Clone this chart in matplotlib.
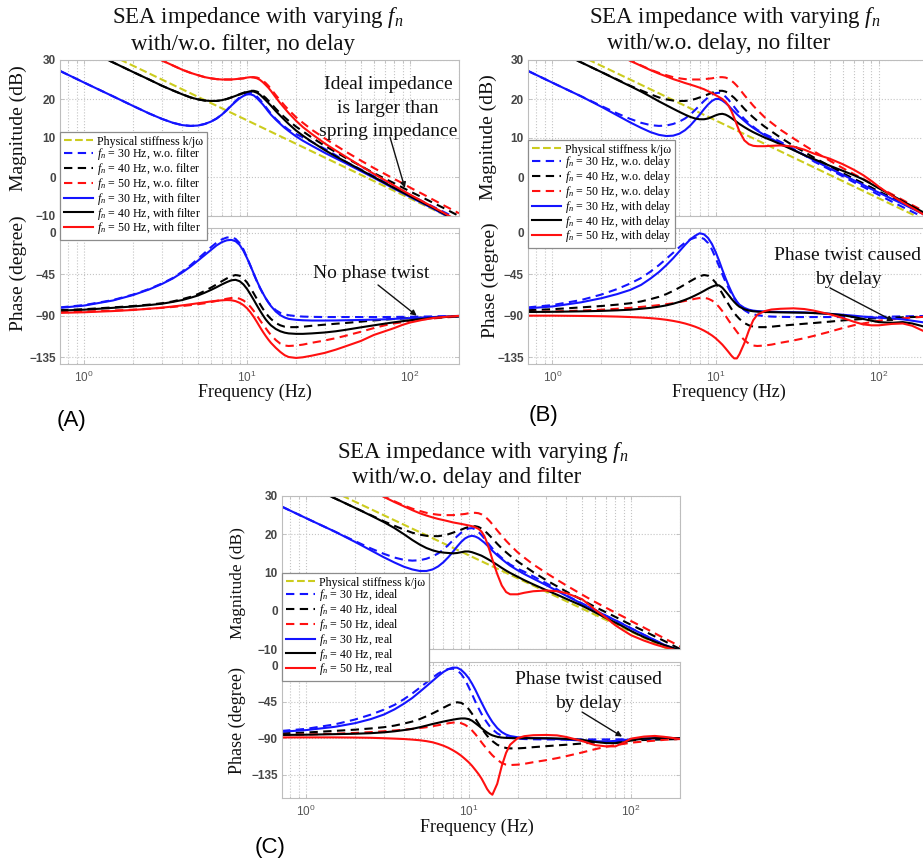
import numpy as np
import matplotlib
matplotlib.use("Agg")
import matplotlib.pyplot as plt
from matplotlib.ticker import FixedLocator, LogLocator, FuncFormatter, NullFormatter

plt.rcParams["mathtext.fontset"] = "custom"
plt.rcParams["mathtext.rm"] = "Liberation Serif"
plt.rcParams["mathtext.it"] = "Liberation Serif:italic"
plt.rcParams["mathtext.sf"] = "Liberation Sans"
plt.rcParams["font.family"] = ["Liberation Serif", "DejaVu Serif"]
plt.rcParams["axes.unicode_minus"] = True

# ---------------------------------------------------------------- data
freq = [0.71, 1, 1.5, 2, 2.5, 3, 3.5, 4, 4.5, 5,
        5.5, 6, 6.5, 7, 7.5, 8, 8.5, 9, 9.5, 10,
        10.5, 11, 11.5, 12, 12.5, 13, 13.5, 14, 15, 16,
        17, 18, 20, 22, 25, 30, 35, 40, 50, 60,
        70, 80, 90, 100, 120, 140, 160, 200]

# physical spring k/jw (straight -20 dB/dec line)
stiff_freq = [0.71, 200]
stiff_mag = [37.5, -11.5]

# ideal impedance (no filter, no delay)
ideal30_mag = [27.2, 24.2, 20.7, 18.2, 16.3, 14.9, 13.9, 13.3, 13.1, 13.2,
               13.6, 14.2, 15.0, 16.0, 17.2, 18.4, 19.5, 20.4, 21.1, 21.5,
               21.6, 21.3, 20.6, 19.8, 18.9, 18.0, 17.1, 16.3, 14.9, 13.8,
               12.9, 12.1, 11.0, 10.2, 9.0, 7.2, 5.6, 4.0, 1.9, 0.2,
               -1.3, -2.5, -3.6, -4.6, -6.3, -7.7, -8.9, -10.9]
ideal40_mag = [35.9, 32.9, 29.4, 26.9, 25.0, 23.4, 22.2, 21.2, 20.4, 19.9,
               19.6, 19.5, 19.5, 19.7, 20.0, 20.4, 20.8, 21.2, 21.6, 21.9,
               22.1, 22.1, 21.9, 21.5, 20.9, 20.3, 19.6, 18.9, 17.5, 16.3,
               15.3, 14.4, 12.9, 11.7, 10.1, 8.0, 6.4, 5.0, 2.8, 1.0,
               -0.4, -1.6, -2.7, -3.7, -5.3, -6.7, -7.9, -10.0]
ideal50_mag = [42.5, 39.5, 36.0, 33.5, 31.5, 29.9, 28.6, 27.5, 26.7, 26.1,
               25.6, 25.3, 25.1, 25.0, 25.0, 25.0, 25.1, 25.2, 25.3, 25.5,
               25.6, 25.6, 25.5, 25.2, 24.7, 24.1, 23.4, 22.6, 21.0, 19.6,
               18.3, 17.2, 15.3, 13.9, 12.1, 9.9, 8.1, 6.6, 4.2, 2.3,
               0.8, -0.5, -1.6, -2.7, -4.4, -5.9, -7.2, -9.3]
ideal30_phase = [-81, -78.5, -73, -67, -61, -55, -49, -42, -35, -28,
                 -21.5, -15.5, -10.5, -7, -5, -4.5, -6.5, -11, -18, -27,
                 -36, -45, -53, -60, -66, -71, -75.5, -79, -84, -87,
                 -88.5, -89.5, -90.5, -91, -91.3, -91.5, -91.5, -91.5, -91.5, -91.5,
                 -91.5, -91.4, -91.3, -91.2, -91, -90.8, -90.6, -90.3]
ideal40_phase = [-84, -83, -81, -79.5, -78, -76.5, -74.5, -72, -69.5, -66.5,
                 -63, -59.5, -56, -52.5, -49.5, -47, -45.8, -46.5, -49.5, -54,
                 -60, -66, -72, -77.5, -82.5, -87, -90.5, -93.5, -98, -100.5,
                 -102, -102.5, -102.5, -102, -101, -99.8, -98.8, -98, -96.5, -95.2,
                 -94.3, -93.6, -93.1, -92.7, -92.2, -91.8, -91.5, -91]
ideal50_phase = [-86, -85.5, -84.5, -83.5, -82.5, -81.5, -80.5, -79.5, -78.5, -77.5,
                 -76.5, -75.2, -74, -72.8, -71.6, -70.8, -70.6, -71.5, -73.5, -76.5,
                 -80.5, -85, -90, -95, -99.5, -103.5, -107.5, -111, -116.5, -120.5,
                 -122.5, -123, -122.5, -121.5, -119.5, -117, -114.5, -112, -107.5, -103.5,
                 -100.5, -98.5, -97, -95.5, -94, -93, -92, -91]

# with filter, no delay
filter30_mag = [27.2, 24.2, 20.7, 18.2, 16.3, 14.9, 13.9, 13.3, 13.1, 13.2,
                13.6, 14.2, 15.0, 16.0, 17.1, 18.3, 19.3, 20.2, 20.8, 21.2,
                21.2, 20.9, 20.2, 19.4, 18.6, 17.7, 16.8, 16.0, 14.7, 13.6,
                12.6, 11.8, 10.4, 9.3, 8.0, 6.2, 4.8, 3.6, 1.5, -0.2,
                -1.7, -3.0, -4.1, -5.1, -6.8, -8.2, -9.5, -11.8]
filter40_mag = [35.9, 32.9, 29.4, 26.9, 25.0, 23.4, 22.2, 21.2, 20.4, 19.9,
                19.6, 19.5, 19.5, 19.7, 20.0, 20.4, 20.8, 21.2, 21.5, 21.8,
                22.0, 21.9, 21.6, 21.1, 20.4, 19.7, 19.0, 18.3, 16.9, 15.7,
                14.6, 13.6, 11.9, 10.6, 9.0, 6.9, 5.3, 4.0, 1.8, 0.0,
                -1.5, -2.8, -3.9, -4.9, -6.6, -8.0, -9.3, -11.6]
filter50_mag = [42.5, 39.5, 36.0, 33.5, 31.5, 29.9, 28.6, 27.5, 26.7, 26.1,
                25.6, 25.3, 25.1, 25.0, 25.0, 25.0, 25.1, 25.2, 25.3, 25.5,
                25.6, 25.5, 25.3, 24.9, 24.3, 23.6, 22.9, 22.1, 20.4, 18.9,
                17.6, 16.4, 14.4, 12.8, 11.0, 8.6, 6.8, 5.3, 2.8, 0.8,
                -0.8, -2.2, -3.4, -4.5, -6.3, -7.8, -9.1, -11.4]
filter30_phase = [-81.5, -79, -73.5, -67.5, -61.5, -55.5, -49.5, -43, -36.5, -30,
                  -24, -18.5, -13.5, -10, -8, -7.5, -9, -13, -19.5, -27.5,
                  -36, -44.5, -52.5, -59.5, -65.5, -71, -75.5, -79.5, -85.5, -89.5,
                  -92, -93.5, -94.5, -95, -95.3, -95.3, -95.2, -95, -94.7, -94.3,
                  -94, -93.5, -93, -92.7, -92, -91.5, -91, -90.5]
filter40_phase = [-84.5, -83.5, -81.5, -80, -78.5, -77, -75, -73, -70.5, -68,
                  -65, -62, -59, -56, -53.5, -51.5, -51, -52.5, -56, -61,
                  -67, -73, -79, -84.5, -89.5, -94, -97.5, -100.5, -104.5, -107,
                  -108.5, -109.3, -109.8, -109.8, -109.3, -108.3, -107, -105.5, -102.7, -100.5,
                  -98.7, -97.2, -96, -95, -93.5, -92.4, -91.6, -90.5]
filter50_phase = [-87, -86.3, -85, -83.8, -82.5, -81.3, -80, -78.8, -77.6, -76.5,
                  -75.5, -74.5, -73.8, -73.3, -73, -73.2, -74.2, -76, -78.5, -82,
                  -86.5, -91.5, -97, -102.5, -107.5, -112, -116, -119.5, -125, -129.5,
                  -133, -135, -136, -135.3, -133.5, -130.5, -127, -123.5, -117.5, -111,
                  -107, -103.5, -100, -97.5, -94.5, -92.5, -91.5, -90.2]

# with delay, no filter
delay30_mag = [27.2, 24.2, 20.7, 18.0, 15.8, 14.0, 12.6, 11.5, 10.8, 10.5,
               10.6, 11.1, 12.0, 13.2, 14.6, 16.0, 17.4, 18.6, 19.5, 20.0,
               20.0, 19.6, 19.0, 18.3, 17.5, 16.8, 16.1, 15.5, 14.4, 13.4,
               12.6, 11.9, 10.7, 9.8, 8.6, 7.0, 5.6, 4.3, 2.2, 0.6,
               -0.8, -2.0, -3.1, -4.0, -5.6, -6.9, -8.1, -10.1]
delay40_mag = [35.9, 32.9, 29.4, 26.9, 24.9, 23.3, 21.9, 20.6, 19.4, 18.4,
               17.5, 16.7, 16.0, 15.4, 15.0, 14.8, 14.8, 15.0, 15.4, 15.8,
               16.1, 16.2, 16.0, 15.6, 15.1, 14.6, 14.1, 13.6, 12.8, 12.1,
               11.5, 11.0, 10.1, 9.4, 8.4, 6.9, 5.6, 4.6, 2.9, 1.6,
               0.5, -0.6, -1.8, -2.9, -4.7, -6.2, -7.5, -9.7]
delay50_mag = [42.5, 39.5, 36.0, 33.4, 31.4, 29.8, 28.5, 27.4, 26.5, 25.8,
               25.1, 24.6, 24.1, 23.7, 23.3, 22.9, 22.5, 22.0, 21.5, 21.0,
               20.5, 20.0, 19.3, 18.3, 16.9, 15.2, 13.4, 11.7, 9.4, 8.4,
               8.0, 7.9, 7.9, 8.0, 8.1, 7.8, 7.0, 6.0, 4.7, 3.3,
               1.9, 0.5, -1.0, -2.5, -4.8, -6.5, -7.9, -10.3]
delay30_phase = [-82, -80, -75.5, -71, -66.5, -62, -56.5, -49.5, -42.5, -35,
                 -27.5, -20, -13, -7, -3, -0.3, -1.5, -5.5, -12, -20.5,
                 -30, -40, -49, -57, -64, -70, -74.5, -78, -81.5, -83.5,
                 -84.5, -85, -85.5, -85.8, -86, -86.2, -86.5, -87, -88, -89,
                 -90, -91, -91.8, -92.3, -93, -94, -95.5, -98]
delay40_phase = [-86, -85.8, -85.3, -84.8, -84.2, -83.5, -82.5, -81.5, -80.2, -78.8,
                 -77, -75, -72.8, -70.5, -68, -65.5, -63, -60.5, -58.5, -57,
                 -57, -59.5, -63.5, -67.5, -71.5, -75, -78, -80.3, -83, -84.5,
                 -85.2, -85.6, -86, -86.2, -86.4, -86.6, -86.8, -87.2, -88, -89.5,
                 -91.5, -93.5, -95.5, -97, -97.8, -97, -98.5, -103]
delay50_phase = [-90, -90, -90.3, -90.6, -91, -91.5, -92, -92.7, -93.5, -94.5,
                 -95.7, -97, -98.5, -100.2, -102, -104, -106.3, -108.8, -111.5, -114.5,
                 -118, -121.5, -125.5, -129.5, -133.5, -136.5, -136.5, -132, -120, -106,
                 -95, -89, -85, -83.3, -82.5, -82, -82.8, -84.5, -88.5, -92.5,
                 -96.5, -99.5, -100.5, -100.5, -99, -98.5, -101, -109]

# real: delay and filter
real30_mag = [27.2, 24.2, 20.7, 18.0, 15.8, 14.0, 12.6, 11.5, 10.8, 10.4,
              10.4, 10.8, 11.6, 12.7, 14.0, 15.4, 16.8, 18.0, 18.9, 19.4,
              19.6, 19.4, 19.0, 18.4, 17.8, 17.1, 16.4, 15.7, 14.5, 13.5,
              12.6, 11.8, 10.6, 9.6, 8.4, 6.7, 5.2, 3.9, 1.8, 0.1,
              -1.3, -2.5, -3.6, -4.6, -6.3, -7.7, -8.9, -10.4]
real40_mag = [35.9, 32.9, 29.4, 26.9, 24.9, 23.2, 21.6, 20.0, 18.5, 17.3,
              16.4, 15.8, 15.4, 15.2, 15.1, 15.0, 15.1, 15.3, 15.5, 15.5,
              15.3, 15.0, 14.7, 14.4, 14.0, 13.6, 13.2, 12.8, 12.0, 11.2,
              10.5, 9.9, 8.9, 8.0, 6.9, 5.4, 4.2, 3.1, 1.3, -0.4,
              -1.9, -3.1, -4.2, -5.3, -6.9, -8.1, -9.0, -10.3]
real50_mag = [42.5, 39.5, 36.0, 33.4, 31.4, 29.8, 28.4, 27.3, 26.3, 25.5,
              24.9, 24.4, 24.0, 23.7, 23.4, 23.1, 22.9, 22.7, 22.5, 22.3,
              22.1, 21.8, 21.4, 20.7, 19.5, 17.7, 15.6, 13.4, 9.6, 6.6,
              4.9, 4.3, 4.3, 4.7, 5.1, 5.3, 5.1, 4.6, 3.0, 0.3,
              -1.8, -3.8, -5.2, -6.4, -7.8, -8.8, -9.5, -10.6]
real30_phase = [-82, -80, -76, -71.5, -66.5, -61, -54.5, -47.5, -40.5, -33,
                -26, -19.5, -13.5, -8.5, -5, -3.2, -3.3, -6, -10.5, -16,
                -23, -30.5, -38.5, -46, -53, -59.5, -65, -70, -77.5, -82.5,
                -85.5, -87.3, -88.8, -89.5, -90, -90.5, -91, -91.8, -92.8, -93.7,
                -94, -93.3, -92.3, -91.3, -90.5, -90, -89.5, -90]
real40_phase = [-86, -85.7, -85, -84.5, -83.8, -82.8, -81.5, -80, -78.5, -76.5,
                -74.5, -72.5, -71, -69.5, -68.3, -67.2, -66.3, -65.7, -65.7, -66.5,
                -68.5, -71.5, -74.5, -77.5, -80.5, -83, -85, -86.5, -88.3, -89.2,
                -89.6, -89.8, -90, -90, -90, -90, -90.3, -90.8, -92, -94.5,
                -96, -96, -95, -92.5, -90.5, -90, -89.5, -90]
real50_phase = [-89, -89, -89, -89.2, -89.5, -90, -90.5, -91, -91.7, -92.5,
                -93.6, -95, -97, -99.2, -101.8, -104.8, -108, -111.5, -115.5, -119.5,
                -124, -129, -134, -139.5, -146, -152.5, -157, -159.5, -146, -124,
                -108, -98, -90, -87.5, -86.3, -86, -86.5, -88.5, -93.5, -98.5,
                -100, -100, -95.5, -90.5, -88, -87.2, -88.3, -91]

fn_values = [30, 40, 50]
mag_ticks = [-10, 0, 10, 20, 30]
phase_ticks = [-135, -90, -45, 0]

# ---------------------------------------------------------------- style
W, H = 923, 864
fig = plt.figure(figsize=(W / 100, H / 100), dpi=100)

BLUE, BLACK, RED, YELLOW = "#1414ff", "#000000", "#ff1010", "#cccc1e"
colors = [BLUE, BLACK, RED]
SPINE = "#bdbdbd"
GRID = "#c4c4c4"
TICKTXT = "#454545"


def px_axes(l, t, r, b):
    return fig.add_axes([l / W, 1 - b / H, (r - l) / W, (b - t) / H])


def decade_label(v, pos):
    return r"$\mathsf{10^{%d}}$" % int(round(np.log10(v)))


def style(ax, ylim, yticks, xlabels, hide=()):
    ax.set_xscale("log")
    ax.set_xlim(0.71, 200)
    ax.set_ylim(*ylim)
    ax.yaxis.set_major_locator(FixedLocator(yticks))
    ax.yaxis.set_major_formatter(
        FuncFormatter(lambda v, p: "" if v in hide else "\u2212%d" % abs(v) if v < 0 else "%d" % v))
    ax.xaxis.set_major_locator(FixedLocator([1, 10, 100]))
    ax.xaxis.set_minor_locator(LogLocator(base=10, subs=np.arange(2, 10)))
    ax.xaxis.set_minor_formatter(NullFormatter())
    if xlabels:
        ax.xaxis.set_major_formatter(FuncFormatter(decade_label))
    else:
        ax.xaxis.set_major_formatter(NullFormatter())
    ax.grid(True, which="major", ls=":", color=GRID, lw=0.8)
    ax.grid(True, which="minor", axis="x", ls=":", color=GRID, lw=0.8)
    ax.set_axisbelow(True)
    ax.tick_params(which="both", direction="in", top=True, right=True,
                   color=SPINE, length=3, width=0.6)
    ax.tick_params(which="minor", length=1.8)
    ax.tick_params(axis="y", labelsize=8.5, labelcolor=TICKTXT, pad=3,
                   labelfontfamily="Liberation Sans")
    ax.tick_params(axis="x", labelsize=8.5, labelcolor="#555555", pad=4)
    for lab in ax.get_yticklabels():
        lab.set_fontweight("bold")
    for s in ax.spines.values():
        s.set_color(SPINE)
        s.set_linewidth(0.8)


def panel(box_mag, box_ph, ph_ylim, solid_mag, solid_ph, labels, legend_at,
          hide_mag=()):
    axm = px_axes(*box_mag)
    axp = px_axes(*box_ph)
    handles = []
    h, = axm.plot(stiff_freq, stiff_mag, ls="--", color=YELLOW, lw=1.5)
    handles.append(h)
    ideal_mag = [ideal30_mag, ideal40_mag, ideal50_mag]
    ideal_ph = [ideal30_phase, ideal40_phase, ideal50_phase]
    for c, m, p in zip(colors, ideal_mag, ideal_ph):
        h, = axm.plot(freq, m, ls="--", color=c, lw=1.5, dashes=(4, 2.6))
        axp.plot(freq, p, ls="--", color=c, lw=1.5, dashes=(4, 2.6))
        handles.append(h)
    for c, m, p in zip(colors, solid_mag, solid_ph):
        h, = axm.plot(freq, m, ls="-", color=c, lw=1.5)
        axp.plot(freq, p, ls="-", color=c, lw=1.5)
        handles.append(h)
    style(axm, (-10, 30), mag_ticks, False, hide_mag)
    style(axp, ph_ylim, phase_ticks, True)
    leg = fig.legend(handles, labels, loc="upper left",
                     bbox_to_anchor=(legend_at[0] / W, 1 - legend_at[1] / H),
                     bbox_transform=fig.transFigure, borderaxespad=0,
                     frameon=True, fancybox=False, framealpha=1,
                     edgecolor="#8c8c8c", borderpad=0.3, handlelength=2.5,
                     handletextpad=0.3, labelspacing=-0.1,
                     prop={"family": "Liberation Serif", "size": 8.6})
    leg.get_frame().set_linewidth(0.9)
    return axm, axp


def title(lines, y_base, x_centers):
    for txt, y, x in zip(lines, y_base, x_centers):
        fig.text(x / W, 1 - y / H, txt, ha="center", va="baseline",
                 fontsize=16.5, family="Liberation Serif", color="#111111")


def ylab(txt, x, y, size):
    fig.text(x / W, 1 - y / H, txt, rotation=90, ha="center", va="center",
             fontsize=size, family="Liberation Serif", color="#111111")


def xlab(txt, x, y, size):
    fig.text(x / W, 1 - y / H, txt, ha="center", va="center",
             fontsize=size, family="Liberation Serif", color="#111111")


def note(ax, txt, text_frac, tail_frac, tip):
    ax.text(*text_frac, txt, transform=ax.transAxes, ha="center", va="center",
            fontsize=14, family="Liberation Serif", linespacing=1.5,
            color="#111111", zorder=6)
    ax.annotate("", xy=tip, xycoords="data", xytext=tail_frac,
                textcoords="axes fraction",
                arrowprops=dict(arrowstyle="-|>", color="#111111", lw=1.0,
                                mutation_scale=8, shrinkA=0, shrinkB=0),
                zorder=6)


fn_lab = [r"$f_n$ = %d Hz" % v for v in fn_values]

# ---------------------------------------------------------------- (A)
lab_a = ["Physical stiffness k/j\u03c9"] + \
        [s + ", w.o. filter" for s in fn_lab] + [s + ", with filter" for s in fn_lab]
am, ap = panel((60, 60, 459, 216), (60, 228, 459, 364), (-142.6, 5.4),
               [filter30_mag, filter40_mag, filter50_mag],
               [filter30_phase, filter40_phase, filter50_phase], lab_a, (60, 132))
title([r"SEA impedance with varying $f_n$", "with/w.o. filter, no delay"],
      [23, 50], [258, 243])
ylab("Magnitude (dB)", 18, 128, 14)
ylab("Phase (degree)", 18, 273, 14)
xlab("Frequency (Hz)", 255, 392, 13)
note(am, "Ideal impedance\nis larger than\nspring impedance", (0.822, 0.69),
     (0.827, 0.506), (93, -2.8))
note(ap, "No phase twist", (0.779, 0.669), (0.797, 0.581), (110, -90))
fig.text(72 / W, 1 - 420 / H, "(A)", ha="center", va="center", fontsize=16,
         family="Liberation Sans")

# ---------------------------------------------------------------- (B)
lab_b = ["Physical stiffness k/j\u03c9"] + \
        [s + ", w.o. delay" for s in fn_lab] + [s + ", with delay" for s in fn_lab]
bm, bp = panel((528, 60, 928, 216), (528, 228, 928, 364), (-142.6, 5.4),
               [delay30_mag, delay40_mag, delay50_mag],
               [delay30_phase, delay40_phase, delay50_phase], lab_b, (528, 140),
               hide_mag=(-10,))
title([r"SEA impedance with varying $f_n$", "with/w.o. delay, no filter"],
      [23, 49], [735, 719])
ylab("Magnitude (dB)", 488, 137, 14)
ylab("Phase (degree)", 490, 280, 14)
xlab("Frequency (Hz)", 729, 392, 13)
note(bp, "Phase twist caused\nby delay", (0.80, 0.71), (0.755, 0.559), (123, -96))
fig.text(543 / W, 1 - 415 / H, "(B)", ha="center", va="center", fontsize=16,
         family="Liberation Sans")

# ---------------------------------------------------------------- (C)
lab_c = ["Physical stiffness k/j\u03c9"] + \
        [s + ", ideal" for s in fn_lab] + [s + ", real" for s in fn_lab]
cm, cp = panel((282, 496, 680, 649), (282, 662, 680, 798), (-163.5, 3.7),
               [real30_mag, real40_mag, real50_mag],
               [real30_phase, real40_phase, real50_phase], lab_c, (282, 573))
title([r"SEA impedance with varying $f_n$", "with/w.o. delay and filter"],
      [458, 483], [483, 467])
ylab("Magnitude (dB)", 238, 583, 12.5)
ylab("Phase (degree)", 237, 720, 13)
xlab("Frequency (Hz)", 477, 827, 13)
note(cp, "Phase twist caused\nby delay", (0.769, 0.783), (0.754, 0.632), (88, -88))
fig.text(270 / W, 1 - 847 / H, "(C)", ha="center", va="center", fontsize=16,
         family="Liberation Sans")

fig.savefig("out.png", dpi=100, facecolor="white")
